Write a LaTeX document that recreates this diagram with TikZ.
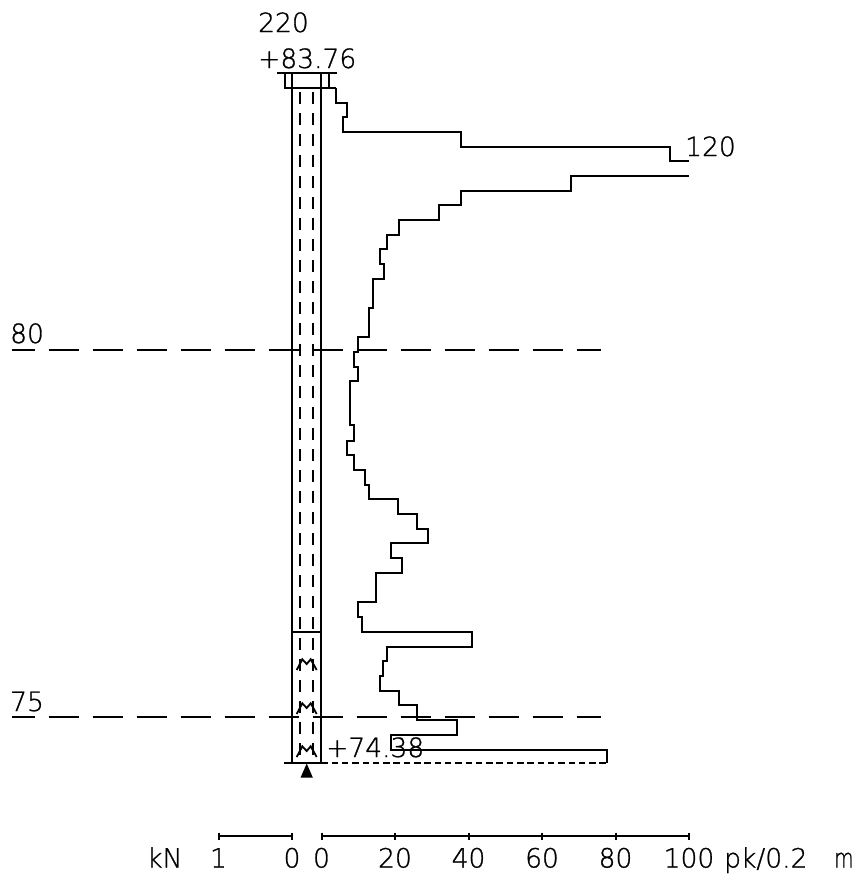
\documentclass[tikz,border=0pt]{standalone}
\usepackage{fontspec}
\setmainfont{DejaVu Sans ExtraLight}[FakeBold=1]
\tikzset{
  pileline/.style={line width=2pt},
  pilecore/.style={line width=2pt, dash pattern=on 11.7pt off 9.3pt},
  levelline/.style={line width=2pt, dash pattern=on 30.7pt off 13.3pt, dash phase=7.3pt},
  profile/.style={line width=2pt, line join=miter},
  gauge/.style={line width=2pt},
  label/.style={inner sep=0pt, anchor=base west, font=\fontsize{26.5}{26.5}\selectfont},
  scalelabel/.style={inner sep=0pt, anchor=base, font=\fontsize{26.5}{26.5}\selectfont}
}
\begin{document}
\begin{tikzpicture}[x=1pt,y=-1pt]
  \useasboundingbox (0,0) rectangle (858,878);

  % Level lines
  \draw[levelline] (12,349.5) -- (601,349.5);
  \draw[levelline] (12,717) -- (601,717);
  \node[label] (lvlA) at (10,343) {80};
  \node[label] (lvlB) at (10,711) {75};

  % Pile with cap
  \draw[pileline] (291.7,73) -- (291.7,762.7);
  \draw[pileline] (321.3,73) -- (321.3,762.7);
  \draw[pilecore] (299.7,92.3) -- (299.7,762.7);
  \draw[pilecore] (313.3,92.3) -- (313.3,762.7);
  \draw[pileline] (277,73) -- (336.7,73);
  \draw[pileline] (284.7,73) -- (284.7,88) -- (336.3,88);
  \draw[pileline] (329.3,73) -- (329.3,88);
  \draw[pileline] (291.7,632) -- (321.3,632);

  % Rock marks near the foot
  \foreach \yfoot in {670,714,757} {
    \draw[line width=1.8pt] (296.7,\yfoot) -- (302.3,\yfoot-10.7) -- (306.7,\yfoot-6)
      -- (310.7,\yfoot-10.7) -- (316.7,\yfoot);
  }

  % Foot and tip
  \draw[pileline] (284,762.7) -- (321.3,762.7);
  \draw[line width=2pt, dash pattern=on 6.5pt off 3.8pt] (321.3,762.7) -- (607.3,762.7);
  \fill (306.7,763.5) -- (312.9,777.7) -- (300.5,777.7) -- cycle;

  % Sounding profile
  \draw[profile] (336.3,88) -- (336.3,102.7) -- (347,102.7) -- (347,117.3) -- (343.3,117.3)
    -- (343.3,132) -- (460.7,132) -- (460.7,146.7) -- (670,146.7) -- (670,161.3) -- (689,161.3);
  \draw[profile] (689,176) -- (571,176) -- (571,190.7) -- (460.7,190.7) -- (460.7,205.3)
    -- (439,205.3) -- (439,220) -- (398.7,220) -- (398.7,234.7) -- (387.3,234.7)
    -- (387.3,249.3) -- (379.7,249.3) -- (379.7,264) -- (383.7,264) -- (383.7,278.7)
    -- (372.7,278.7) -- (372.7,308) -- (369,308) -- (369,337.3) -- (358,337.3)
    -- (358,352) -- (354.3,352) -- (354.3,366.7) -- (358,366.7) -- (358,381.3)
    -- (350.3,381.3) -- (350.3,425.3) -- (354,425.3) -- (354,440.7) -- (346.7,440.7)
    -- (346.7,455) -- (354,455) -- (354,470) -- (365.3,470) -- (365.3,484.7)
    -- (369,484.7) -- (369,499.3) -- (398.3,499.3) -- (398.3,514) -- (416.7,514)
    -- (416.7,528.7) -- (428,528.7) -- (428,543.3) -- (391,543.3) -- (391,558)
    -- (402.3,558) -- (402.3,573) -- (376.3,573) -- (376.3,602.3) -- (357.7,602.3)
    -- (357.7,617.3) -- (361.7,617.3) -- (361.7,631.7) -- (472,631.7) -- (472,646.7)
    -- (387.3,646.7) -- (387.3,661.3) -- (383.3,661.3) -- (383.3,676) -- (379.7,676)
    -- (379.7,690.7) -- (398.7,690.7) -- (398.7,705.3) -- (417,705.3) -- (417,720)
    -- (457.3,720) -- (457.3,735) -- (391.3,735) -- (391.3,749.7) -- (607.3,749.7)
    -- (607.3,762.7);

  % Labels at the pile and profile
  \node[label] (pileno) at (258,32) {220};
  \node[label] (topelev) at (258,68) {+83.76};
  \node[label] (clipval) at (685,156) {120};
  \node[label] (footelev) at (326,757) {+74.38};

  % Force scale
  \draw[gauge] (218.5,836) -- (292,836);
  \foreach \xtick in {218.5,292} {
    \draw[gauge] (\xtick,832.7) -- (\xtick,840);
  }
  \node[label] (unitA) at (147,867.5) {kN};
  \node[scalelabel] (forceA) at (218.5,867.5) {1};
  \node[scalelabel] (forceB) at (292,867.5) {0};

  % Blow count scale
  \draw[gauge] (321.5,836) -- (689,836);
  \foreach \xtick/\val in {321.5/0,395/20,468.5/40,542/60,615.5/80} {
    \draw[gauge] (\xtick,832.7) -- (\xtick,840);
    \node[scalelabel] (blow\val) at (\xtick,867.5) {\val};
  }
  \draw[gauge] (689,832.7) -- (689,840);
  \node[scalelabel] (blow100) at (689,867.5) {100};
  \node[label] (unitB) at (724,867.5) {pk/0.2};
  \node[label, xscale=0.75, transform shape] (unitC) at (834,867.5) {m};
\end{tikzpicture}
\end{document}
